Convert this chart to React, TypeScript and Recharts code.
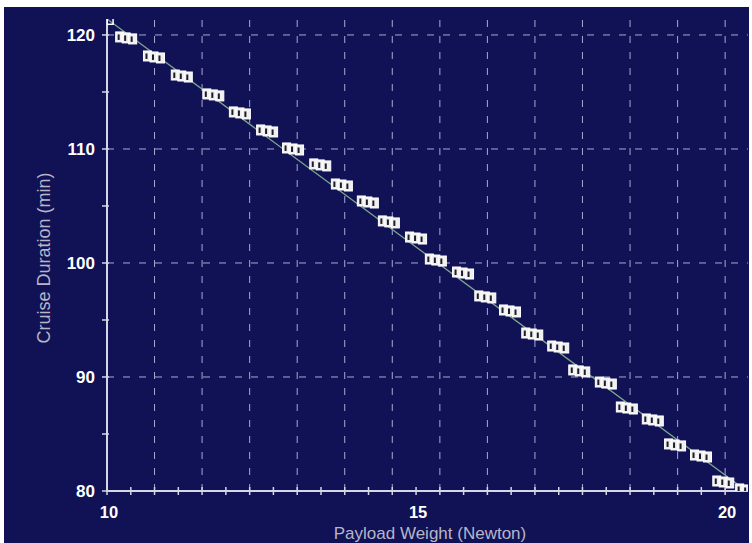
import React from "react";
import { ComposedChart, XAxis, YAxis, Scatter, Line, ReferenceLine, Label } from "recharts";

// cluster centres
const PAYLOAD = [
  10.05, 10.31, 10.76, 11.21, 11.72, 12.15, 12.59, 13.01, 13.45, 13.8, 14.22, 14.56, 15.0, 15.32,
  15.76, 16.12, 16.52, 16.88, 17.3, 17.64, 18.07, 18.41, 18.83, 19.19, 19.61, 19.97, 20.34,
];
const DURATION = [
  121.2, 119.74, 118.07, 116.4, 114.74, 113.16, 111.58, 110.0, 108.6, 106.84, 105.35, 103.6, 102.19,
  100.26, 99.12, 97.02, 95.79, 93.77, 92.63, 90.53, 89.47, 87.28, 86.23, 84.04, 83.07, 80.79, 80.09,
];

// fitted line end points
const FIT_PAYLOAD = [10, 20.35];
const FIT_DURATION = [121.4, 80];

const X_TICKS = [
  10, 10.385, 10.769, 11.154, 11.538, 11.923, 12.308, 12.692, 13.077, 13.462, 13.846, 14.231, 14.615,
  15, 15.385, 15.769, 16.154, 16.538, 16.923, 17.308, 17.692, 18.077, 18.462, 18.846, 19.231, 19.615, 20,
];
const X_GRID = [
  10.769, 11.538, 12.308, 13.077, 13.846, 14.615, 15.385, 16.154, 16.923, 17.692, 18.462, 19.231, 20,
];
const X_LABELS = [10, 15, 20];
const Y_TICKS = [80, 85, 90, 95, 100, 105, 110, 115, 120];
const Y_GRID = [90, 100, 110, 120];
const Y_LABELS = [80, 90, 100, 110, 120];

const BG = "#111155";
const AXIS = "#d6d6e6";
const GRID = "#a9a9d4";
const TITLE = "#b6b6c8";
const FONT = "'Liberation Sans', Arial, sans-serif";

const points = PAYLOAD.map((x, i) => ({ x, y: DURATION[i] }));
const fit = FIT_PAYLOAD.map((x, i) => ({ x, y: FIT_DURATION[i] }));

function BottomTick({ x, y, payload }: any) {
  const v = payload.value;
  const show = X_LABELS.some((l) => Math.abs(l - v) < 1e-6);
  return (
    <g>
      <line x1={x} x2={x} y1={y - 4} y2={y + 4} stroke={AXIS} strokeWidth={1.5} />
      {show && (
        <text x={x + 2} y={y + 27} textAnchor="middle" fill="#ffffff" fontSize={16.5} fontWeight="bold" fontFamily={FONT}>
          {v}
        </text>
      )}
    </g>
  );
}

function TopTick({ x, y }: any) {
  return <line x1={x} x2={x} y1={y} y2={y + 6} stroke={AXIS} strokeWidth={1.5} />;
}

function LeftTick({ x, y, payload }: any) {
  const v = payload.value;
  return (
    <g>
      <line x1={x - 5} x2={x + 2} y1={y} y2={y} stroke={AXIS} strokeWidth={1.5} />
      {Y_LABELS.includes(v) && (
        <text x={x - 12} y={y + 6} textAnchor="end" fill="#ffffff" fontSize={17} fontWeight="bold" fontFamily={FONT}>
          {v}
        </text>
      )}
    </g>
  );
}

function Cluster(props: any) {
  const { cx, cy, payload } = props;
  if (cx == null || cy == null) return null;
  if (payload && payload.x < 10.1) {
    return <rect x={cx - 3} y={cy - 3} width={6} height={6} fill="none" stroke="#ffffff" strokeWidth={1.5} />;
  }
  const offs = [-6.5, 0, 6.5];
  return (
    <g>
      {offs.map((d, k) => (
        <g key={k}>
          <rect x={cx + d - 4} y={cy - 6 + k} width={8} height={10} fill="#f0f0f0" stroke="#ffffff" strokeWidth={1} />
          <rect x={cx + d - 2} y={cy - 3.5 + k} width={2} height={5.5} fill="#1c1c2a" />
        </g>
      ))}
    </g>
  );
}

export default function App() {
  return (
    <div style={{ position: "absolute", left: 0, top: 0, width: 752, height: 543, background: "#ffffff", overflow: "hidden" }}>
      <div style={{ position: "absolute", left: 4, top: 7, width: 745, height: 536, background: BG }} />
      <div style={{ position: "absolute", left: 0, top: 0 }}>
        <ComposedChart width={752} height={543} margin={{ top: 19, right: 4, bottom: 0, left: 0 }}>
          <XAxis
            dataKey="x"
            type="number"
            domain={[10, 20.37]}
            allowDataOverflow
            ticks={X_TICKS}
            interval={0}
            height={52}
            tickSize={0}
            tickMargin={0}
            tickLine={false}
            axisLine={{ stroke: AXIS, strokeWidth: 2 }}
            tick={<BottomTick />}
          >
            <Label
              content={() => (
                <text x={430} y={539} textAnchor="middle" fill={TITLE} fontSize={17} fontFamily={FONT}>
                  Payload Weight (Newton)
                </text>
              )}
            />
          </XAxis>
          <XAxis
            xAxisId="top"
            orientation="top"
            dataKey="x"
            type="number"
            domain={[10, 20.37]}
            allowDataOverflow
            ticks={X_GRID}
            interval={0}
            height={0}
            tickSize={0}
            tickMargin={0}
            tickLine={false}
            axisLine={{ stroke: AXIS, strokeWidth: 2 }}
            tick={<TopTick />}
          />
          <YAxis
            dataKey="y"
            type="number"
            domain={[80, 121.4]}
            allowDataOverflow
            ticks={Y_TICKS}
            interval={0}
            width={107}
            tickSize={0}
            tickMargin={0}
            tickLine={false}
            axisLine={{ stroke: AXIS, strokeWidth: 2 }}
            tick={<LeftTick />}
          >
            <Label
              content={() => (
                <text
                  x={44}
                  y={258}
                  transform="rotate(-90 44 258)"
                  textAnchor="middle"
                  dominantBaseline="central"
                  fill={TITLE}
                  fontSize={18}
                  fontFamily={FONT}
                >
                  Cruise Duration (min)
                </text>
              )}
            />
          </YAxis>
          {X_GRID.map((v) => (
            <ReferenceLine key={"gx" + v} x={v} stroke={GRID} strokeWidth={1} strokeDasharray="7 9" />
          ))}
          {Y_GRID.map((v) => (
            <ReferenceLine key={"gy" + v} y={v} stroke={GRID} strokeWidth={1} strokeDasharray="7 9" />
          ))}
          <Line
            data={fit}
            dataKey="y"
            type="linear"
            stroke="#7ea58c"
            strokeWidth={1.3}
            dot={false}
            activeDot={false}
            isAnimationActive={false}
          />
          <Scatter data={points} dataKey="y" shape={<Cluster />} isAnimationActive={false} />
        </ComposedChart>
      </div>
    </div>
  );
}
